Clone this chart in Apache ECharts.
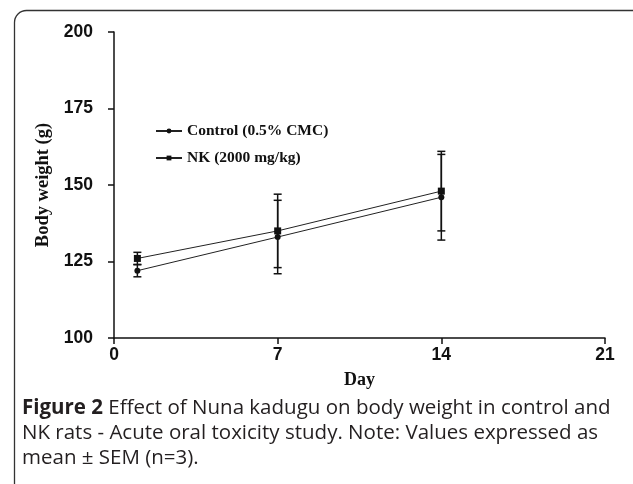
<!DOCTYPE html>
<html><head><meta charset="utf-8">
<script src="https://cdn.jsdelivr.net/npm/echarts@6/dist/echarts.min.js"></script>
<style>html,body{margin:0;padding:0;background:#fff}#c{width:633px;height:484px}</style>
</head><body><div id="c"></div>
<script>
const days = [1, 7, 14];
const seriesNames = ['Control (0.5% CMC)', 'NK (2000 mg/kg)'];
const controlMean = [122, 133, 146];
const controlSem = [2, 12, 14];
const nkMean = [126, 135, 148];
const nkSem = [2, 12, 13];
const xTicks = [0, 7, 14, 21];
const yTicks = [100, 125, 150, 175, 200];

function pts(m){ return days.map((d,i)=>[d,m[i]]); }
function errData(m,s){ return days.map((d,i)=>[d,m[i]-s[i],m[i]+s[i]]); }
function errSeries(m,s){
  return {type:'custom', silent:true, z:3, data:errData(m,s),
    renderItem:function(params,api){
      const lo=api.coord([api.value(0),api.value(1)]);
      const hi=api.coord([api.value(0),api.value(2)]);
      const w=4;
      const st={stroke:'#111',lineWidth:1.5};
      return {type:'group',children:[
        {type:'line',shape:{x1:lo[0],y1:lo[1],x2:hi[0],y2:hi[1]},style:st},
        {type:'line',shape:{x1:lo[0]-w,y1:lo[1],x2:lo[0]+w,y2:lo[1]},style:st},
        {type:'line',shape:{x1:hi[0]-w,y1:hi[1],x2:hi[0]+w,y2:hi[1]},style:st}
      ]};
    }};
}
const chart = echarts.init(document.getElementById('c'));
const serif = 'Liberation Serif, Times New Roman, serif';
const sans = 'Liberation Sans, Arial, sans-serif';
chart.setOption({
  animation:false,
  backgroundColor:'#fff',
  grid:{left:114,right:28,top:32,bottom:146,containLabel:false},
  legend:{orient:'vertical',left:150,top:118,itemGap:11,itemWidth:26,itemHeight:6,
    data:seriesNames,
    textStyle:{fontFamily:serif,fontWeight:'bold',fontSize:15.5,color:'#111'}},
  xAxis:{type:'value',min:0,max:21,interval:7,
    name:'Day',nameLocation:'middle',nameGap:33,
    nameTextStyle:{fontFamily:serif,fontWeight:'bold',fontSize:18,color:'#111'},
    axisLine:{lineStyle:{color:'#111',width:1.5}},
    axisTick:{show:true,length:6,lineStyle:{color:'#111',width:1.5}},
    axisLabel:{fontFamily:sans,fontWeight:'bold',fontSize:17.5,color:'#111',margin:8,
      formatter:v=>xTicks.includes(v)?String(v):''},
    splitLine:{show:false}},
  yAxis:{type:'value',min:100,max:200,interval:25,
    name:'Body weight (g)',nameLocation:'middle',nameGap:57,nameRotate:90,
    nameTextStyle:{fontFamily:serif,fontWeight:'bold',fontSize:18.5,color:'#111'},
    axisLine:{show:true,lineStyle:{color:'#111',width:1.5}},
    axisTick:{show:true,length:6,lineStyle:{color:'#111',width:1.5}},
    axisLabel:{fontFamily:sans,fontWeight:'bold',fontSize:17.5,color:'#111',margin:21,
      formatter:v=>yTicks.includes(v)?String(v):''},
    splitLine:{show:false}},
  series:[
    errSeries(controlMean,controlSem),
    errSeries(nkMean,nkSem),
    {name:seriesNames[0],type:'line',data:pts(controlMean),symbol:'circle',symbolSize:6,
      lineStyle:{color:'#222',width:1},itemStyle:{color:'#111'},z:4},
    {name:seriesNames[1],type:'line',data:pts(nkMean),symbol:'rect',symbolSize:7,
      lineStyle:{color:'#222',width:1},itemStyle:{color:'#111'},z:4}
  ],
  graphic:[
    {type:'rect',left:12,top:8,shape:{x:0,y:0,width:650,height:500,r:12},
      style:{fill:'none',stroke:'#333',lineWidth:1.3},silent:true,z:-1},
    {type:'text',left:22,top:396,style:{
      text:'{b|Figure 2} Effect of Nuna kadugu on body weight in control and\nNK rats - Acute oral toxicity study. Note: Values expressed as\nmean ± SEM (n=3).',
      font:'20.5px Open Sans, sans-serif',fill:'#231f20',lineHeight:25,
      rich:{b:{fontWeight:'bold',fontSize:20.5,fontFamily:'Open Sans, sans-serif',fill:'#231f20'}}}}
  ]
});
</script></body></html>
